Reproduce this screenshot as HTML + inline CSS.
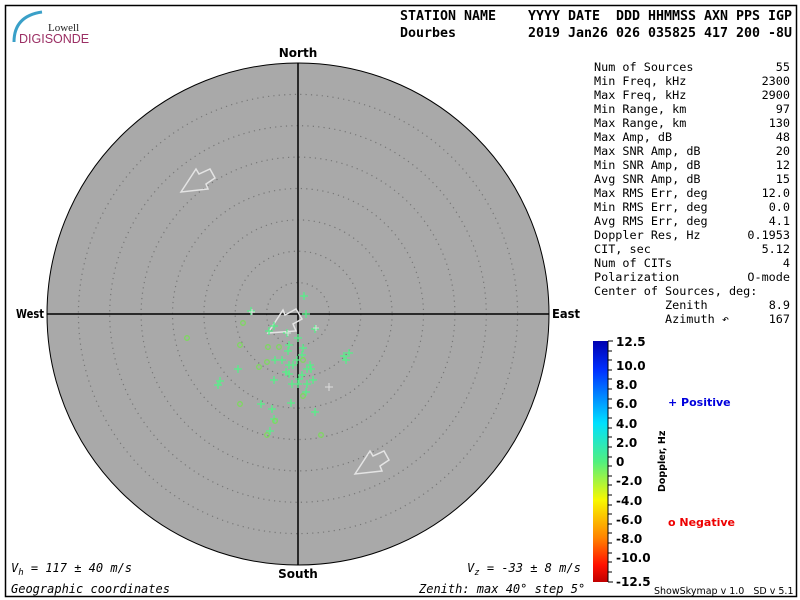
<!DOCTYPE html>
<html><head><meta charset="utf-8"><style>
html,body{margin:0;padding:0;background:#fff;}
svg{display:block;}
.m{font-family:"DejaVu Sans Mono","Liberation Mono",monospace;}
.s{font-family:"DejaVu Sans","Liberation Sans",sans-serif;}
</style></head><body>
<svg width="800" height="600" viewBox="0 0 800 600" xmlns="http://www.w3.org/2000/svg">
<rect x="0" y="0" width="800" height="600" fill="#fff"/>
<rect x="5.5" y="5.5" width="791" height="591" fill="none" stroke="#000" stroke-width="1.5"/>
<path d="M14,42 Q14,16 42,12" fill="none" stroke="#3aa0c8" stroke-width="3"/>
<text x="48" y="31" font-family="Liberation Serif,serif" font-size="11" fill="#222">Lowell</text>
<text x="19" y="43" font-family="Liberation Sans,sans-serif" font-size="12.5" fill="#9b2f64">DIGISONDE</text>
<g class="m" font-weight="bold" font-size="13.3" fill="#000">
<text x="400" y="20" textLength="392" lengthAdjust="spacingAndGlyphs" xml:space="preserve">STATION NAME    YYYY DATE  DDD HHMMSS AXN PPS IGP</text>
<text x="400" y="37" textLength="392" lengthAdjust="spacingAndGlyphs" xml:space="preserve">Dourbes         2019 Jan26 026 035825 417 200 -8U</text>
</g>
<circle cx="298" cy="314" r="251" fill="#a9a9a9" stroke="#000" stroke-width="1"/>
<g fill="none" stroke="#777" stroke-width="1.2" stroke-dasharray="1.2 4.2">
<circle cx="298" cy="314" r="31.4"/><circle cx="298" cy="314" r="62.8"/><circle cx="298" cy="314" r="94.1"/>
<circle cx="298" cy="314" r="125.5"/><circle cx="298" cy="314" r="156.9"/><circle cx="298" cy="314" r="188.3"/>
<circle cx="298" cy="314" r="219.6"/>
</g>
<line x1="47" y1="314" x2="549" y2="314" stroke="#000" stroke-width="1.5"/>
<line x1="298" y1="63" x2="298" y2="565" stroke="#000" stroke-width="1.5"/>
<g class="s" font-weight="bold" font-size="12" fill="#000">
<text x="298" y="57" text-anchor="middle">North</text>
<text x="298" y="578" text-anchor="middle">South</text>
<text x="16" y="318" textLength="28" lengthAdjust="spacingAndGlyphs">West</text>
<text x="552" y="318" textLength="28" lengthAdjust="spacingAndGlyphs">East</text>
</g>
<g fill="none" stroke="#e4e4e4" stroke-width="1.5">
<polygon points="181,192 196,169 199,174 210,169 215,178 206,184 208,189"/>
<polygon points="355,474 370,451 373,456 384,451 389,460 380,466 382,471"/>
<polygon points="268,333 283,310 285,315 296,309 302,319 293,324 296,331"/>
</g>
<g stroke="#55f088" stroke-width="1.3">
<path d="M304,292v8M300,296h8 M306,310v8M302,314h8 M274,322v8M270,326h8 M287,329v8M283,333h8 M315,325v8M311,329h8 M298,334v8M294,338h8 M289,341v8M285,345h8 M303,344v8M299,348h8 M288,347v8M284,351h8 M275,356v8M271,360h8 M282,356v8M278,360h8 M297,356v8M293,360h8 M302,351v8M298,355h8 M289,361v8M285,365h8 M293,361v8M289,365h8 M310,361v8M306,365h8 M307,365v8M303,369h8 M311,365v8M307,369h8 M238,365v8M234,369h8 M286,368v8M282,372h8 M289,370v8M285,374h8 M302,371v8M298,375h8 M299,375v8M295,379h8 M274,376v8M270,380h8 M313,376v8M309,380h8 M298,380v8M294,384h8 M292,380v8M288,384h8 M307,380v8M303,384h8 M306,388v8M302,392h8 M220,377v8M216,381h8 M218,381v8M214,385h8 M261,400v8M257,404h8 M272,405v8M268,409h8 M291,399v8M287,403h8 M315,408v8M311,412h8 M270,427v8M266,431h8 M344,352v8M340,356h8 M349,349v8M345,353h8 M346,356v8M342,360h8 M251,307v8M247,311h8 M269,327v8M265,331h8 M274,415v8M270,419h8"/>
</g>
<g stroke="#ddd" stroke-width="1">
<path d="M329,383v8M325,387h8 M316,325v6M313,328h6 M252,309v6M249,312h6 M288,330v6M285,333h6"/>
</g>
<g fill="none" stroke="#7ed860" stroke-width="1.3">
<circle cx="243" cy="323" r="2.3"/><circle cx="187" cy="338" r="2.3"/><circle cx="240" cy="345" r="2.3"/>
<circle cx="268" cy="347" r="2.3"/><circle cx="279" cy="347" r="2.3"/><circle cx="267" cy="362" r="2.3"/>
<circle cx="259" cy="367" r="2.3"/><circle cx="303" cy="360" r="2.3"/><circle cx="303" cy="396" r="2.3"/>
<circle cx="240" cy="404" r="2.3"/><circle cx="275" cy="421" r="2.3"/><circle cx="267" cy="435" r="2.3"/>
<circle cx="321" cy="435" r="2.3"/>
</g>
<g class="m" font-style="italic" font-size="12" fill="#000">
<text x="11" y="572">V<tspan font-size="9" dy="3">h</tspan><tspan dy="-3"> = 117 ± 40 m/s</tspan></text>
<text x="11" y="593">Geographic coordinates</text>
<text x="467" y="572">V<tspan font-size="9" dy="3">z</tspan><tspan dy="-3"> = -33 ± 8 m/s</tspan></text>
<text x="419" y="593">Zenith: max 40°  step 5°</text>
</g>
<g class="m" font-size="11.8" fill="#000">
<text x="594" y="71">Num of Sources</text><text x="790" y="71" text-anchor="end">55</text>
<text x="594" y="85">Min Freq, kHz</text><text x="790" y="85" text-anchor="end">2300</text>
<text x="594" y="99">Max Freq, kHz</text><text x="790" y="99" text-anchor="end">2900</text>
<text x="594" y="113">Min Range, km</text><text x="790" y="113" text-anchor="end">97</text>
<text x="594" y="127">Max Range, km</text><text x="790" y="127" text-anchor="end">130</text>
<text x="594" y="141">Max Amp, dB</text><text x="790" y="141" text-anchor="end">48</text>
<text x="594" y="155">Max SNR Amp, dB</text><text x="790" y="155" text-anchor="end">20</text>
<text x="594" y="169">Min SNR Amp, dB</text><text x="790" y="169" text-anchor="end">12</text>
<text x="594" y="183">Avg SNR Amp, dB</text><text x="790" y="183" text-anchor="end">15</text>
<text x="594" y="197">Max RMS Err, deg</text><text x="790" y="197" text-anchor="end">12.0</text>
<text x="594" y="211">Min RMS Err, deg</text><text x="790" y="211" text-anchor="end">0.0</text>
<text x="594" y="225">Avg RMS Err, deg</text><text x="790" y="225" text-anchor="end">4.1</text>
<text x="594" y="239">Doppler Res, Hz</text><text x="790" y="239" text-anchor="end">0.1953</text>
<text x="594" y="253">CIT, sec</text><text x="790" y="253" text-anchor="end">5.12</text>
<text x="594" y="267">Num of CITs</text><text x="790" y="267" text-anchor="end">4</text>
<text x="594" y="281">Polarization</text><text x="790" y="281" text-anchor="end">O-mode</text>
<text x="594" y="295">Center of Sources, deg:</text>
<text x="665" y="309">Zenith</text><text x="790" y="309" text-anchor="end">8.9</text>
<text x="665" y="323">Azimuth ↶</text><text x="790" y="323" text-anchor="end">167</text>
</g>
<defs><linearGradient id="cb" x1="0" y1="0" x2="0" y2="1">
<stop offset="0" stop-color="#0000b0"/><stop offset="0.12" stop-color="#0030ff"/>
<stop offset="0.34" stop-color="#00e0ff"/><stop offset="0.5" stop-color="#50f080"/>
<stop offset="0.66" stop-color="#f8f800"/><stop offset="0.82" stop-color="#ff8000"/>
<stop offset="0.93" stop-color="#ff1000"/><stop offset="1" stop-color="#c00000"/>
</linearGradient></defs>
<rect x="593" y="341" width="15" height="241" fill="url(#cb)"/>
<g stroke="#000" stroke-width="1">
<line x1="608" y1="341" x2="608" y2="582"/>
<path d="M608,341h5M608,351h4M608,360h4M608,370h4M608,379h4M608,389h4M608,399h4M608,408h4M608,418h4M608,428h4M608,437h4M608,447h4M608,457h4M608,466h4M608,476h4M608,485h4M608,495h4M608,505h4M608,514h4M608,524h4M608,533h4M608,543h4M608,553h4M608,562h4M608,572h4M608,582h5"/>
</g>
<g class="s" font-weight="bold" font-size="12" fill="#000">
<text x="616" y="346">12.5</text><text x="616" y="370">10.0</text><text x="616" y="389">8.0</text>
<text x="616" y="408">6.0</text><text x="616" y="428">4.0</text><text x="616" y="447">2.0</text>
<text x="616" y="466">0</text><text x="616" y="485">-2.0</text><text x="616" y="505">-4.0</text>
<text x="616" y="524">-6.0</text><text x="616" y="543">-8.0</text><text x="616" y="562">-10.0</text>
<text x="616" y="586">-12.5</text>
<text transform="translate(665,492) rotate(-90)" font-size="9.5">Doppler, Hz</text>
<text x="668" y="406" font-size="11" fill="#0000dd">+ Positive</text>
<text x="668" y="526" font-size="11" fill="#ee0000">o Negative</text>
</g>
<text x="654" y="594" class="s" font-size="9.5" fill="#000" xml:space="preserve">ShowSkymap v 1.0   SD v 5.1</text>
</svg>
</body></html>
